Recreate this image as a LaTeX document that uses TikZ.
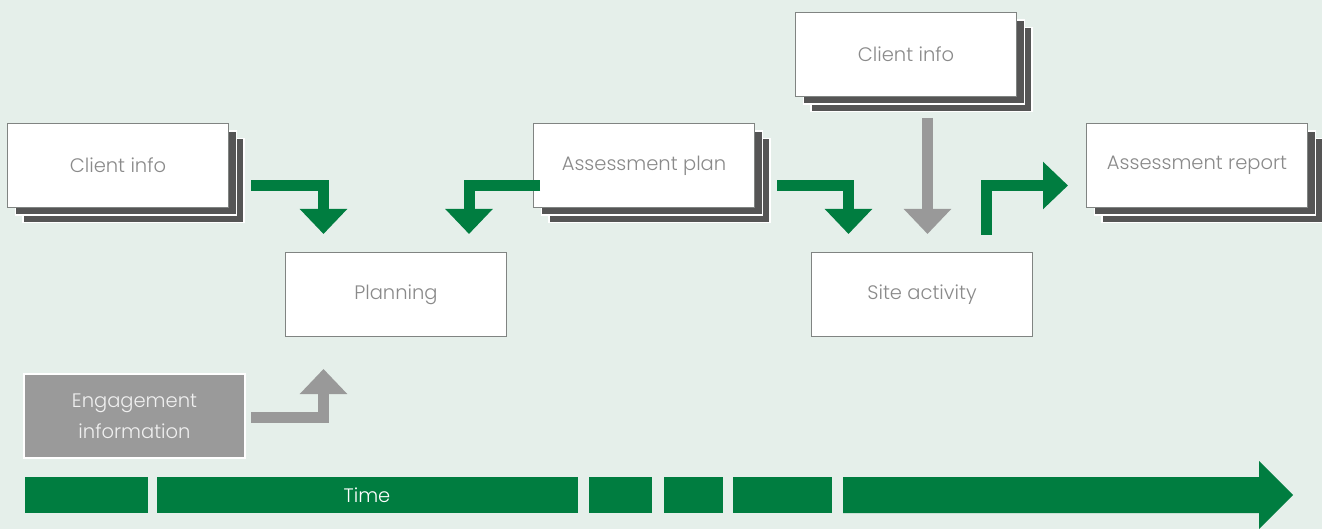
\documentclass[tikz,border=0pt]{standalone}
\usepackage{fontspec}
\setmainfont{Poppins Light}
\usetikzlibrary{arrows.meta,shadows}

\definecolor{bgcol}{RGB}{229,239,234}
\definecolor{flowgreen}{RGB}{0,125,64}
\definecolor{flowgray}{RGB}{153,153,153}
\definecolor{stackgray}{RGB}{85,85,85}
\definecolor{boxline}{RGB}{128,132,130}
\definecolor{labelgray}{RGB}{138,138,138}
\definecolor{engfill}{RGB}{154,154,154}

\tikzset{
  box/.style={draw=boxline, fill=white, line width=1pt, minimum width=221pt,
    minimum height=84pt, inner sep=0pt, anchor=north west, text=labelgray,
    font=\fontsize{19.5}{23}\selectfont},
  stackbox/.style={box,
    copy shadow={shadow xshift=15.5pt, shadow yshift=-15pt, fill=stackgray, draw=white, line width=1.6pt},
    copy shadow={shadow xshift=8pt, shadow yshift=-7.5pt, fill=stackgray, draw=white, line width=1.6pt}},
  engbox/.style={box, draw=white, line width=2pt, fill=engfill, text=white!94!black,
    align=center, font=\fontsize{19.5}{31}\selectfont},
  flowarrow/.style={line width=11pt, line join=miter,
    -{Triangle[width=46pt,length=25pt]}},
  greenarrow/.style={flowarrow, draw=flowgreen},
  grayarrow/.style={flowarrow, draw=flowgray},
  timeseg/.style={fill=flowgreen}
}

\begin{document}
\begin{tikzpicture}[x=1pt,y=-1pt]
  % canvas
  \fill[bgcol] (0,0) rectangle (1322,529);
  \useasboundingbox (0,0) rectangle (1322,529);

  % documents and activities
  \node[stackbox] (clientA) at (7,123)    {Client info};
  \node[stackbox] (plan)    at (533,123)  {Assessment plan};
  \node[stackbox] (clientB) at (795,12)   {Client info};
  \node[stackbox] (report)  at (1086,123) {Assessment report};
  \node[box]      (planning) at (285,252) {Planning};
  \node[box]      (site)     at (811,252) {Site activity};
  \node[engbox]   (engage)   at (23,373)  {Engagement\\information};

  % connector end points
  \coordinate (a1s) at (251,186);   \coordinate (a1e) at (323.5,234);
  \coordinate (a2s) at (540,186);   \coordinate (a2e) at (469,234);
  \coordinate (a3s) at (777,186);   \coordinate (a3e) at (848.5,234);
  \coordinate (a4s) at (927.5,118); \coordinate (a4e) at (927.5,234);
  \coordinate (a5s) at (986.5,235); \coordinate (a5e) at (1068,185.5);
  \coordinate (a6s) at (251,417.5); \coordinate (a6e) at (323.5,369);

  % flow arrows
  \draw[greenarrow] (a1s) -| (a1e);
  \draw[greenarrow] (a2s) -| (a2e);
  \draw[greenarrow] (a3s) -| (a3e);
  \draw[grayarrow]  (a4s) -- (a4e);
  \draw[greenarrow] (a5s) |- (a5e);
  \draw[grayarrow]  (a6s) -| (a6e);

  % time line
  \fill[timeseg] (25,477)  rectangle (148,513);
  \fill[timeseg] (157,477) rectangle (578,513);
  \fill[timeseg] (589,477) rectangle (652,513);
  \fill[timeseg] (664,477) rectangle (723,513);
  \fill[timeseg] (733,477) rectangle (832,513);
  \fill[timeseg] (843,477) -- (1259,477) -- (1259,461) -- (1293,495)
                 -- (1259,529) -- (1259,513) -- (843,513) -- cycle;
  \node[text=white, font=\fontsize{19.5}{23}\selectfont] (time) at (367,495) {Time};
\end{tikzpicture}
\end{document}
